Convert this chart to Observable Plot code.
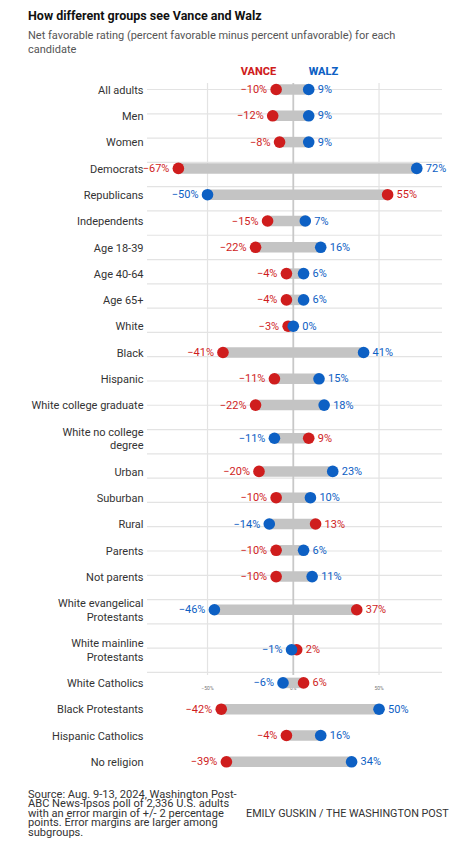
<!DOCTYPE html>
<html>
<head>
<meta charset="utf-8">
<script src="https://cdn.jsdelivr.net/npm/d3@7"></script>
<script src="https://cdn.jsdelivr.net/npm/@observablehq/plot@0.6"></script>
<style>
  html, body { margin: 0; padding: 0; background: #fff; }
  body { width: 460px; height: 850px; position: relative; font-family: Roboto, "Noto Sans", sans-serif; color: #222; }
  #title { position: absolute; left: 28px; top: 8px; font-size: 12.5px; font-weight: 700; color: #111; line-height: 16px; white-space: nowrap; }
  #subtitle { position: absolute; left: 28px; top: 29px; width: 385px; font-size: 11px; color: #555; line-height: 14px; }
  #chart { position: absolute; left: 0; top: 60px; }
  #source { position: absolute; left: 28px; top: 790px; width: 230px; font-size: 11.1px; color: #333; line-height: 9.4px; }
  #credit { position: absolute; left: 246px; top: 808px; font-size: 10.8px; color: #333; line-height: 11px; white-space: nowrap; }
</style>
</head>
<body>
<div id="title">How different groups see Vance and Walz</div>
<div id="subtitle">Net favorable rating (percent favorable minus percent unfavorable) for each candidate</div>
<div id="chart"></div>
<div id="source">Source: Aug. 9-13, 2024, Washington Post-<br>ABC News-Ipsos poll of 2,336 U.S. adults<br>with an error margin of +/- 2 percentage<br>points. Error margins are larger among<br>subgroups.</div>
<div id="credit">EMILY GUSKIN / THE WASHINGTON POST</div>
<script>
// ---- data ----
const categories = [
  "All adults", "Men", "Women", "Democrats", "Republicans", "Independents",
  "Age 18-39", "Age 40-64", "Age 65+", "White", "Black", "Hispanic",
  "White college graduate", "White no college\ndegree", "Urban", "Suburban", "Rural",
  "Parents", "Not parents", "White evangelical\nProtestants", "White mainline\nProtestants",
  "White Catholics", "Black Protestants", "Hispanic Catholics", "No religion"
];
const vance = [-10, -12, -8, -67, 55, -15, -22, -4, -4, -3, -41, -11, -22, 9, -20, -10, 13, -10, -10, 37, 2, 6, -42, -4, -39];
const walz  = [9, 9, 9, 72, -50, 7, 16, 6, 6, 0, 41, 15, 18, -11, 23, 10, -14, 6, 11, -46, -1, -6, 50, 16, 34];
const candidates = ["Vance", "Walz"];
const candidateLabels = ["VANCE", "WALZ"];
const xTicks = [-50, 0, 50];

// ---- layout helpers ----
const RED = "#cf1d1d", BLUE = "#0d60c4";
const ROW1 = 26.3, ROW2 = 40, GRID_STEP = 24.29;
const heights = categories.map(c => c.includes("\n") ? ROW2 : ROW1);
const pos = [];
let acc = 0;
heights.forEach((h, i) => { if (i > 0) acc += (heights[i - 1] + h) / 2; pos.push(acc); });
const last = pos[pos.length - 1];

const rows = categories.map((c, i) => ({
  label: c, y: pos[i], vance: vance[i], walz: walz[i],
  lo: Math.min(vance[i], walz[i]), hi: Math.max(vance[i], walz[i])
}));
const points = [];
candidates.forEach((cand, k) => {
  const vals = k === 0 ? vance : walz;
  const other = k === 0 ? walz : vance;
  vals.forEach((v, i) => points.push({cand, value: v, y: pos[i], side: v < other[i] ? "lo" : "hi"}));
});
const fmt = v => (v < 0 ? "\u2212" + Math.abs(v) : String(v)) + "%";
const gridRows = categories.map((c, i) => ({y: i * GRID_STEP}));
const gridBottom = (categories.length - 1) * GRID_STEP;
const header = candidates.map((cand, k) => ({cand, label: candidateLabels[k], x: k === 0 ? vance[0] : walz[0]}));

const chart = Plot.plot({
  width: 460,
  height: 720,
  marginLeft: 147,
  marginRight: 18,
  marginTop: 0,
  marginBottom: 0,
  style: {fontFamily: "Roboto, 'Noto Sans', sans-serif", background: "white", overflow: "visible"},
  x: {domain: [-85, 87], axis: null},
  y: {type: "linear", domain: [0, last], range: [29, 29 + last], axis: null},
  color: {domain: candidates, range: [RED, BLUE]},
  marks: [
    Plot.ruleY(gridRows, {y: "y", stroke: "#e3e3e3", strokeWidth: 1.2}),
    Plot.ruleX(xTicks.filter(d => d !== 0), {x: d => d, y1: -6, y2: gridBottom + 3, stroke: "#e3e3e3", strokeWidth: 1.2}),
    Plot.ruleX(xTicks.filter(d => d === 0), {x: d => d, y1: -6, y2: gridBottom + 3, stroke: "#c8c8c8", strokeWidth: 1.8}),
    Plot.text(xTicks, {x: d => d, y: gridBottom + 16, text: d => fmt(d), fontSize: 5, fill: "#777"}),
    Plot.ruleY(rows, {y: "y", x1: "lo", x2: "hi", stroke: "#c4c4c4", strokeWidth: 10.5}),
    Plot.dot(points, {x: "value", y: "y", r: 5.8, fill: "cand", stroke: "none"}),
    Plot.text(points.filter(d => d.side === "lo"), {x: "value", y: "y", text: d => fmt(d.value), fill: "cand", textAnchor: "end", dx: -9, fontSize: 11}),
    Plot.text(points.filter(d => d.side === "hi"), {x: "value", y: "y", text: d => fmt(d.value), fill: "cand", textAnchor: "start", dx: 9, fontSize: 11}),
    Plot.text(rows, {frameAnchor: "left", y: "y", text: "label", textAnchor: "end", dx: -4, fontSize: 11, fill: "#333", lineHeight: 1.2}),
    Plot.text(header.filter(d => d.cand === "Vance"), {x: "x", y: () => -18, text: "label", fill: "cand", textAnchor: "end", fontSize: 11, fontWeight: 800}),
    Plot.text(header.filter(d => d.cand === "Walz"), {x: "x", y: () => -18, text: "label", fill: "cand", textAnchor: "start", fontSize: 11, fontWeight: 800})
  ]
});
document.getElementById("chart").appendChild(chart);
</script>
</body>
</html>
